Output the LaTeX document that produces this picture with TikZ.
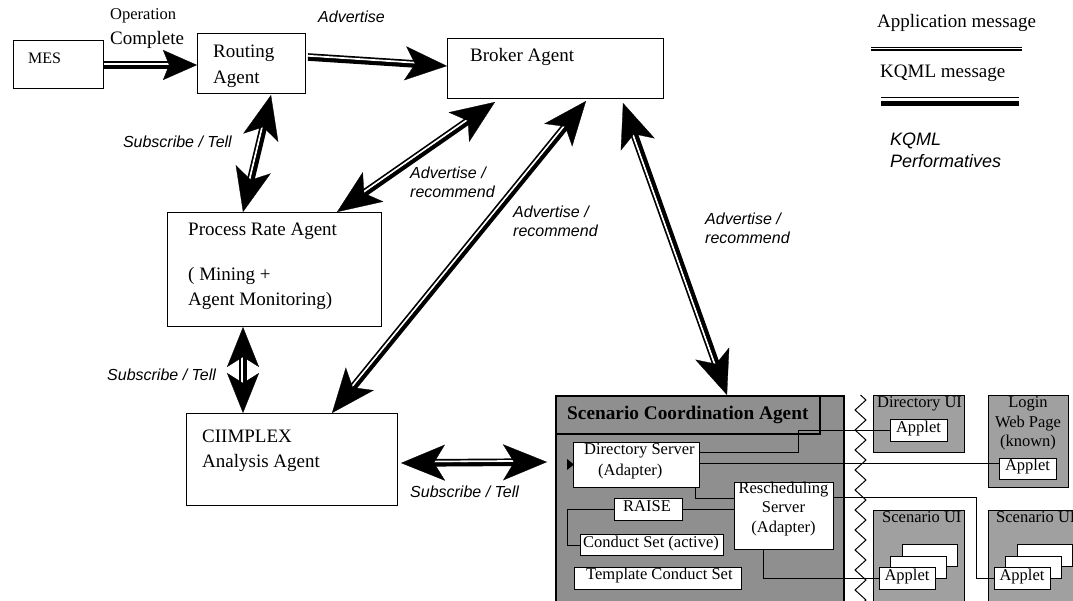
\documentclass[tikz,border=0pt]{standalone}
\usepackage{fontspec}
\setmainfont{Liberation Serif}
\newfontfamily\labfont{Liberation Sans}
\usetikzlibrary{arrows.meta,calc,decorations.pathmorphing}
\definecolor{scgray}{HTML}{8F8F8F}
\definecolor{uigray}{HTML}{A0A0A0}
\newcommand\kband[5]{%
  \coordinate (kA) at (#1);
  \coordinate (kB) at (#2);
  \coordinate (kO) at ($(kA)!1.2pt!#3:(kB)$);
  \draw[line width=7.6pt, shorten <=#4, shorten >=#5] (kA) -- (kB);
  \draw[white, line width=1.8pt, shorten <=#4, shorten >=#5] (kO) -- ($(kB)+(kO)-(kA)$);
}
\newcommand\kqmltwo[4]{\kband{#1}{#2}{#3}{30pt}{30pt}\draw[#4] (kA) -- (kB);}
\newcommand\kqmlone[4]{\kband{#1}{#2}{#3}{0pt}{28pt}\draw[#4] (kA) -- (kB);}
\tikzset{
  box/.style={draw, line width=1pt, fill=white, inner sep=0pt, anchor=north west},
  txt/.style={inner sep=0pt, anchor=base west},
  main/.style={font=\fontsize{19pt}{22pt}\selectfont},
  small/.style={font=\fontsize{16.5pt}{19pt}\selectfont},
  lab/.style={font=\labfont\itshape\fontsize{16pt}{19pt}\selectfont},
  labbig/.style={font=\labfont\itshape\fontsize{18pt}{21pt}\selectfont},
  kboth/.style={line width=0.3pt, {Stealth[length=44pt,width=36pt,inset=11pt]}-{Stealth[length=44pt,width=36pt,inset=11pt]}},
  kbothshort/.style={line width=0.3pt, {Stealth[length=40pt,width=32pt,inset=10pt]}-{Stealth[length=40pt,width=32pt,inset=10pt]}},
  kend/.style={line width=0.3pt, -{Stealth[length=42pt,width=34pt,inset=10pt]}},
  kendmes/.style={line width=0.3pt, -{Stealth[length=34pt,width=30pt,inset=6pt]}},
  wire/.style={line width=1pt},
}
\begin{document}
\begin{tikzpicture}[x=1pt,y=-1pt]
\useasboundingbox (0,0) rectangle (1073,600);
\fill[white] (0,0) rectangle (1073,600);
\clip (0,0) rectangle (1073,600);

% main boxes
\node[box, minimum width=90pt, minimum height=48pt] (mes) at (13,40) {};
\node[box, minimum width=108pt, minimum height=60pt] (routing) at (197,33) {};
\node[box, minimum width=216pt, minimum height=60pt] (broker) at (447,38) {};
\node[box, minimum width=214pt, minimum height=114pt] (process) at (167,212) {};
\node[box, minimum width=211pt, minimum height=92pt] (ciimplex) at (186,413) {};

% scenario coordination agent
\node[box, fill=scgray, line width=1.5pt, minimum width=288pt, minimum height=215pt] (scen) at (555,395) {};
\node[box, fill=scgray, line width=1.5pt, minimum width=264pt, minimum height=38pt] (header) at (555,395) {};
\node[box, minimum width=126pt, minimum height=45pt] (dirserver) at (573,442) {};
\node[box, minimum width=68pt, minimum height=22pt] (raise) at (614,498) {};
\node[box, minimum width=143pt, minimum height=21pt] (conduct) at (580,534) {};
\node[box, minimum width=167pt, minimum height=22pt] (template) at (574,567) {};
\node[box, minimum width=99pt, minimum height=67pt] (resched) at (734,482) {};

% UI boxes
\node[box, fill=uigray, minimum width=91pt, minimum height=57pt] (dirui) at (873,395) {};
\node[box, minimum width=57pt, minimum height=22pt] (dirapplet) at (890,419) {};
\node[box, fill=uigray, minimum width=80pt, minimum height=92pt] (login) at (988,395) {};
\node[box, minimum width=57pt, minimum height=21pt] (loginapplet) at (999,458) {};
\node[box, fill=uigray, minimum width=91pt, minimum height=100pt] (scui1) at (873,510) {};
\node[box, minimum width=55pt, minimum height=22pt] (s1back) at (902,544) {};
\node[box, minimum width=56pt, minimum height=22pt] (s1mid) at (890,556) {};
\node[box, minimum width=56pt, minimum height=22pt] (s1front) at (879,567) {};
\node[box, fill=uigray, minimum width=100pt, minimum height=100pt] (scui2) at (988,510) {};
\node[box, minimum width=55pt, minimum height=22pt] (s2back) at (1017,544) {};
\node[box, minimum width=56pt, minimum height=22pt] (s2mid) at (1005,556) {};
\node[box, minimum width=56pt, minimum height=22pt] (s2front) at (994,567) {};

% zigzag boundary
\draw[line width=1pt, decorate, decoration={zigzag, amplitude=5.5pt, segment length=20pt}] (860.5,395) -- (860.5,606);

% wires
\draw[wire] (raise.west) -- ++(-47,0) |- (conduct.west);
\draw[wire] (raise.east) -- (raise.east -| resched.west);
\draw[wire] ($(dirserver.south east)+(-5,0)$) |- ($(resched.north west)+(0,16)$);
\draw[wire] ($(dirserver.north east)+(0,10)$) -- ++(98,0) |- (dirapplet.west);
\draw[wire] ($(dirserver.north east)+(0,21)$) -- ($(loginapplet.north west)+(0,5)$);
\draw[wire] ($(resched.north east)+(0,15)$) -| ($(s2front.west)+(-18,0)$) -- (s2front.west);
\draw[wire] ($(resched.south west)+(29,0)$) |- (s1front.west);
\fill ($(dirserver.west)+(-6,-6)$) -- ($(dirserver.west)+(1,-0.5)$) -- ($(dirserver.west)+(-6,5)$) -- cycle;

% legend
\node[txt, main] (tapp) at (877,27) {Application message};
\draw[line width=1.4pt, double=white, double distance=1.2pt] (871,48.7) -- (1022,48.7);
\node[txt, main] (tkqm) at (880,77) {KQML message};
\draw[line width=1.5pt] (881,97.5) -- (1019,97.5);
\draw[line width=5pt] (881,103.5) -- (1019,103.5);
\node[txt, labbig] (tperf1) at (890,145) {KQML};
\node[txt, labbig] (tperf2) at (890,167) {Performatives};

% messages
\kqmlone{$(mes.north east)+(0,25)$}{$(routing.north west)+(0,32)$}{90}{kendmes}
\kqmlone{$(routing.north east)+(2,24)$}{$(broker.north west)+(0,28)$}{90}{kend}
\kqmltwo{$(routing.south west)+(74,1)$}{$(process.north west)+(76,0)$}{-90}{kboth}
\kqmltwo{$(broker.south west)+(48,3)$}{$(process.north west)+(170,0)$}{-90}{kboth}
\kqmltwo{$(broker.south west)+(139,2)$}{$(ciimplex.north west)+(146,0)$}{-90}{kboth}
\kqmltwo{$(broker.south west)+(176,4)$}{$(scen.north west)+(172,0)$}{-90}{kboth}
\kqmltwo{$(process.south west)+(76,0)$}{$(ciimplex.north west)+(57,0)$}{-90}{kbothshort}
\kqmltwo{$(ciimplex.south east)+(3,-43)$}{$(scen.north west)+(-8,67)$}{90}{kboth}

% texts
\node[txt, small] (top) at (110,19) {Operation};
\node[txt, main] (tcomp) at (110,44) {Complete};
\node[txt, font=\fontsize{16pt}{19pt}\selectfont] (tmes) at (28,63) {MES};
\node[txt, main] (trout1) at (213,57) {Routing};
\node[txt, main] (trout2) at (213,83) {Agent};
\node[txt, lab] (tadv) at (318,22) {Advertise};
\node[txt, main] (tbrok) at (470,61) {Broker Agent};
\node[txt, lab, anchor=base east] (tst1) at (232,147) {Subscribe / Tell};
\node[txt, lab] (tar1a) at (410,178) {Advertise /};
\node[txt, lab] (tar1b) at (410,197) {recommend};
\node[txt, lab] (tar2a) at (513,217) {Advertise /};
\node[txt, lab] (tar2b) at (513,236) {recommend};
\node[txt, lab] (tar3a) at (705,224) {Advertise /};
\node[txt, lab] (tar3b) at (705,243) {recommend};
\node[txt, main] (tproc1) at (188,235) {Process Rate Agent};
\node[txt, main] (tproc2) at (188,280) {( Mining +};
\node[txt, main] (tproc3) at (188,305) {Agent Monitoring)};
\node[txt, lab] (tst2) at (107,380) {Subscribe / Tell};
\node[txt, main] (tcii1) at (202,442) {CIIMPLEX};
\node[txt, main] (tcii2) at (202,467) {Analysis Agent};
\node[txt, lab] (tst3) at (410,497) {Subscribe / Tell};
\node[txt, font=\bfseries\fontsize{19.3pt}{22pt}\selectfont] (thead) at (567,419) {Scenario Coordination Agent};
\node[txt, small] (tds1) at (584,454) {Directory Server};
\node[txt, small] (tds2) at (598,475) {(Adapter)};
\node[txt, small] (traise) at (623,511) {RAISE};
\node[txt, small, anchor=base] (trs1) at (783.5,493) {Rescheduling};
\node[txt, small, anchor=base] (trs2) at (783.5,512) {Server};
\node[txt, small, anchor=base] (trs3) at (783.5,532) {(Adapter)};
\node[txt, small] (tcond) at (583,547) {Conduct Set (active)};
\node[txt, small] (ttemp) at (586,579) {Template Conduct Set};
\node[txt, small] (tdirui) at (877,407) {Directory UI};
\node[txt, small, anchor=base] (tdapp) at (918.5,432) {Applet};
\node[txt, small, anchor=base] (tlog1) at (1028,407) {Login};
\node[txt, small, anchor=base] (tlog2) at (1028,427) {Web Page};
\node[txt, small, anchor=base] (tlog3) at (1028,446) {(known)};
\node[txt, small, anchor=base] (tlapp) at (1027.5,470) {Applet};
\node[txt, small] (tsc1) at (882,522) {Scenario UI};
\node[txt, small] (tsc2) at (996,522) {Scenario UI};
\node[txt, small, anchor=base] (ts1app) at (907,580) {Applet};
\node[txt, small, anchor=base] (ts2app) at (1022,580) {Applet};
\end{tikzpicture}
\end{document}
